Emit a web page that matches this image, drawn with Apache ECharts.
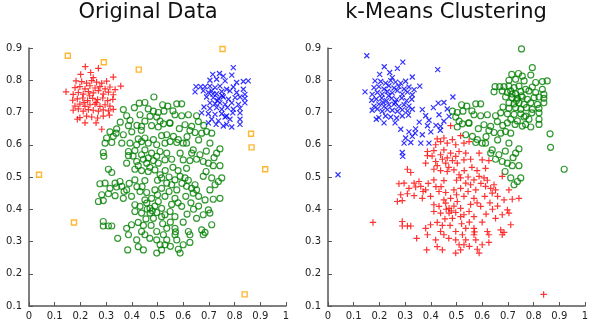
<!DOCTYPE html>
<html>
<head>
<meta charset="utf-8">
<script src="https://cdn.jsdelivr.net/npm/echarts@6/dist/echarts.min.js"></script>
<style>
  html, body { margin: 0; padding: 0; background: #ffffff; }
  #chart { width: 600px; height: 324px; }
</style>
</head>
<body>
<div id="chart"></div>
<script>
// Mouse-shaped point cloud: two "ears", one "head" and a few outliers.
// Left ear (red "+" on the left, blue "x" after clustering)
const earLeft = [
  [0.219,0.842],[0.270,0.837],[0.201,0.818],[0.240,0.824],[0.328,0.810],[0.250,0.808],
  [0.183,0.798],[0.205,0.796],[0.224,0.791],[0.244,0.799],[0.263,0.794],[0.283,0.791],
  [0.302,0.797],[0.357,0.782],[0.144,0.764],[0.179,0.777],[0.198,0.780],[0.218,0.773],
  [0.237,0.783],[0.257,0.776],[0.276,0.780],[0.296,0.773],[0.315,0.779],[0.335,0.771],
  [0.172,0.756],[0.192,0.762],[0.211,0.757],[0.231,0.765],[0.250,0.761],[0.270,0.768],
  [0.289,0.757],[0.309,0.763],[0.328,0.755],[0.170,0.738],[0.188,0.742],[0.209,0.745],
  [0.228,0.737],[0.248,0.744],[0.267,0.740],[0.287,0.745],[0.306,0.737],[0.326,0.741],
  [0.179,0.720],[0.198,0.726],[0.218,0.719],[0.237,0.724],[0.257,0.726],[0.276,0.719],
  [0.296,0.724],[0.315,0.720],[0.172,0.707],[0.192,0.711],[0.211,0.704],[0.231,0.709],
  [0.250,0.707],[0.270,0.704],[0.289,0.708],[0.309,0.705],[0.328,0.710],[0.198,0.684],
  [0.224,0.689],[0.244,0.686],[0.267,0.683],[0.289,0.689],[0.313,0.692],[0.188,0.679],
  [0.218,0.668],[0.261,0.668],[0.283,0.648],[0.236,0.752],[0.262,0.731],[0.214,0.731]
];
// Right ear (blue "x" on the left, green "o" after clustering)
const earRight = [
  [0.795,0.839],[0.715,0.818],[0.741,0.821],[0.756,0.813],[0.789,0.816],[0.853,0.798],
  [0.704,0.800],[0.730,0.803],[0.763,0.798],[0.808,0.793],[0.834,0.796],[0.650,0.780],
  [0.668,0.780],[0.685,0.780],[0.704,0.782],[0.724,0.777],[0.743,0.782],[0.769,0.772],
  [0.795,0.779],[0.834,0.772],[0.646,0.764],[0.678,0.767],[0.698,0.762],[0.711,0.767],
  [0.730,0.758],[0.750,0.765],[0.782,0.767],[0.808,0.762],[0.840,0.756],[0.691,0.748],
  [0.717,0.746],[0.737,0.744],[0.756,0.748],[0.776,0.741],[0.802,0.746],[0.821,0.748],
  [0.840,0.744],[0.704,0.730],[0.724,0.727],[0.743,0.730],[0.763,0.725],[0.789,0.730],
  [0.815,0.725],[0.840,0.730],[0.681,0.717],[0.704,0.713],[0.730,0.715],[0.750,0.710],
  [0.772,0.715],[0.795,0.710],[0.821,0.713],[0.672,0.699],[0.698,0.696],[0.724,0.694],
  [0.750,0.696],[0.769,0.689],[0.793,0.699],[0.821,0.699],[0.711,0.679],[0.737,0.674],
  [0.763,0.686],[0.782,0.679],[0.821,0.679],[0.698,0.668],[0.728,0.663],[0.756,0.658],
  [0.769,0.663],[0.789,0.655],[0.821,0.663],[0.733,0.737],[0.752,0.752],[0.716,0.757]
];
// Head, upper-left part (joins the left ear after clustering)
const headUpperLeft = [
  [0.486,0.748],[0.429,0.729],[0.451,0.731],[0.367,0.709],[0.464,0.711],[0.380,0.690],
  [0.432,0.693],[0.471,0.688],[0.393,0.676],[0.451,0.673],[0.341,0.649],[0.387,0.659],
  [0.438,0.657],[0.302,0.621],[0.328,0.626],[0.367,0.631],[0.296,0.605],[0.322,0.607],
  [0.361,0.605],[0.393,0.605],[0.289,0.576],[0.291,0.564],[0.437,0.645],[0.339,0.636],
  [0.410,0.715],[0.355,0.670],[0.315,0.640],[0.400,0.640],[0.420,0.660]
];
// Head, right part (joins the right ear after clustering)
const headRight = [
  [0.484,0.704],[0.503,0.700],[0.497,0.686],[0.510,0.673],[0.503,0.655],[0.523,0.665],
  [0.520,0.724],[0.575,0.727],[0.594,0.727],[0.525,0.704],[0.568,0.693],[0.594,0.690],
  [0.620,0.693],[0.652,0.690],[0.549,0.667],[0.607,0.662],[0.633,0.657],[0.659,0.672],
  [0.536,0.631],[0.562,0.626],[0.581,0.616],[0.600,0.605],[0.626,0.644],[0.646,0.638],
  [0.672,0.636],[0.691,0.641],[0.711,0.636],[0.575,0.607],[0.613,0.605],[0.704,0.605],
  [0.639,0.584],[0.743,0.587],[0.633,0.574],[0.665,0.569],[0.730,0.574],[0.652,0.555],
  [0.678,0.548],[0.698,0.543],[0.717,0.535],[0.743,0.535],[0.711,0.497],[0.737,0.486],
  [0.750,0.497],[0.724,0.476],[0.689,0.517],[0.547,0.668],
  [0.680,0.660],[0.660,0.615],[0.690,0.580],[0.720,0.560],[0.615,0.625],[0.585,0.650],
  [0.560,0.705],[0.540,0.720]
];
// Head, lower part (forms its own cluster)
const headLower = [
  [0.477,0.659],[0.425,0.618],[0.451,0.621],[0.484,0.616],[0.516,0.628],[0.419,0.600],
  [0.438,0.610],[0.464,0.605],[0.497,0.600],[0.387,0.579],[0.412,0.582],[0.451,0.584],
  [0.477,0.574],[0.510,0.579],[0.387,0.566],[0.438,0.569],[0.464,0.559],[0.497,0.564],
  [0.380,0.543],[0.419,0.548],[0.458,0.543],[0.484,0.551],[0.503,0.543],[0.309,0.524],
  [0.322,0.514],[0.412,0.524],[0.438,0.520],[0.464,0.517],[0.490,0.522],
  [0.529,0.605],[0.549,0.610],[0.536,0.574],[0.588,0.574],[0.529,0.553],[0.555,0.555],
  [0.600,0.553],[0.626,0.551],[0.613,0.527],
  [0.510,0.507],[0.276,0.479],[0.296,0.481],[0.335,0.481],[0.354,0.486],[0.451,0.489],
  [0.412,0.491],[0.516,0.497],[0.315,0.465],[0.341,0.469],[0.361,0.471],[0.380,0.460],
  [0.432,0.455],[0.458,0.452],[0.490,0.460],[0.516,0.465],[0.283,0.445],[0.309,0.448],
  [0.335,0.442],[0.367,0.434],[0.399,0.440],[0.451,0.429],[0.477,0.434],[0.503,0.424],
  [0.270,0.424],[0.289,0.427],[0.412,0.414],[0.432,0.409],[0.458,0.419],[0.471,0.403],
  [0.490,0.410],[0.516,0.403],[0.412,0.393],[0.438,0.388],[0.471,0.388],[0.497,0.390],
  [0.516,0.377],[0.484,0.372],[0.289,0.362],[0.309,0.348],[0.289,0.348],[0.322,0.348],
  [0.425,0.359],[0.399,0.352],[0.380,0.341],[0.438,0.331],[0.497,0.331],[0.387,0.321],
  [0.451,0.321],[0.345,0.310],[0.419,0.305],[0.497,0.305],[0.425,0.284],[0.445,0.274],
  [0.384,0.274],[0.497,0.264],
  [0.536,0.481],[0.555,0.476],[0.568,0.491],[0.588,0.502],[0.607,0.497],[0.613,0.471],
  [0.633,0.465],[0.646,0.476],[0.639,0.450],[0.652,0.460],[0.678,0.502],[0.704,0.460],
  [0.575,0.460],[0.529,0.440],[0.568,0.434],[0.685,0.429],[0.717,0.431],[0.743,0.434],
  [0.594,0.409],[0.529,0.383],[0.549,0.393],[0.568,0.377],[0.652,0.372],[0.678,0.383],
  [0.698,0.398],[0.704,0.388],[0.711,0.352],[0.672,0.336],[0.685,0.328],[0.536,0.341],
  [0.568,0.341],[0.568,0.321],[0.620,0.331],[0.536,0.305],[0.575,0.305],[0.626,0.321],
  [0.678,0.321],[0.600,0.290],[0.626,0.297],[0.581,0.276],[0.529,0.290],[0.516,0.274],
  [0.588,0.264],[0.523,0.321],
  [0.405,0.565],[0.425,0.535],[0.445,0.555],[0.470,0.530],[0.500,0.490],[0.530,0.520],
  [0.545,0.500],[0.560,0.530],[0.580,0.520],[0.595,0.480],[0.620,0.490],[0.660,0.440],
  [0.630,0.420],[0.610,0.440],[0.545,0.455],[0.500,0.445],[0.440,0.470],[0.420,0.470],
  [0.390,0.480],[0.370,0.455],[0.460,0.400],[0.480,0.395],[0.455,0.370],[0.445,0.350],
  [0.475,0.350],[0.520,0.355],[0.550,0.360],[0.600,0.360],[0.615,0.385],[0.640,0.400],
  [0.660,0.410],[0.580,0.420],[0.555,0.415],[0.470,0.310],[0.510,0.290],[0.550,0.285],
  [0.570,0.330]
];
// Outliers, grouped by the cluster they fall into
const noiseUpperLeft = [[0.151,0.876],[0.291,0.856],[0.427,0.833],[0.039,0.507]];
const noiseRight = [[0.753,0.897],[0.864,0.634],[0.866,0.592],[0.919,0.524]];
const noiseLower = [[0.175,0.359],[0.839,0.136]];

const titles = ['Original Data', 'k-Means Clustering'];

const RED = '#ff0000', BLUE = '#0000ff', GREEN = '#008000', ORANGE = '#ffa500';
const PLUS = 'path://M5,0L5,10M0,5L10,5';
const CROSS = 'path://M0,0L10,10M10,0L0,10';

function plusSeries(data, idx) {
  return { type: 'scatter', xAxisIndex: idx, yAxisIndex: idx, data, symbol: PLUS, symbolSize: 6.5,
    itemStyle: { color: 'rgba(0,0,0,0)', borderColor: RED, borderWidth: 1.2 } };
}
function crossSeries(data, idx) {
  return { type: 'scatter', xAxisIndex: idx, yAxisIndex: idx, data, symbol: CROSS, symbolSize: 5,
    itemStyle: { color: 'rgba(0,0,0,0)', borderColor: BLUE, borderWidth: 1.2 } };
}
function circleSeries(data, idx) {
  return { type: 'scatter', xAxisIndex: idx, yAxisIndex: idx, data, symbol: 'circle', symbolSize: 6,
    itemStyle: { color: 'rgba(0,0,0,0)', borderColor: GREEN, borderWidth: 1.2 } };
}
function squareSeries(data, idx) {
  return { type: 'scatter', xAxisIndex: idx, yAxisIndex: idx, data, symbol: 'rect', symbolSize: 5,
    itemStyle: { color: 'rgba(0,0,0,0)', borderColor: ORANGE, borderWidth: 1.4 } };
}

const axisText = { color: '#222', fontSize: 10, fontFamily: 'DejaVu Sans' };
const axisLineStyle = { color: '#555', width: 1.5 };

function xAxis(gridIndex) {
  return { type: 'value', gridIndex, min: 0, max: 1, interval: 0.1,
    axisLine: { onZero: false, lineStyle: axisLineStyle },
    axisTick: { inside: true, length: 4, lineStyle: { color: '#555' } },
    axisLabel: Object.assign({ margin: 5 }, axisText),
    splitLine: { show: false } };
}
function yAxis(gridIndex) {
  return { type: 'value', gridIndex, min: 0.1, max: 0.9, interval: 0.1,
    axisLine: { show: true, onZero: false, lineStyle: axisLineStyle },
    axisTick: { show: true, inside: true, length: 4, lineStyle: { color: '#555' } },
    axisLabel: Object.assign({ margin: 7 }, axisText),
    splitLine: { show: false } };
}

const chart = echarts.init(document.getElementById('chart'), null, { renderer: 'canvas' });
chart.setOption({
  animation: false,
  backgroundColor: '#ffffff',
  grid: [
    { left: 29, top: 48, width: 257, height: 258 },
    { left: 328, top: 48, width: 257, height: 258 }
  ],
  xAxis: [xAxis(0), xAxis(1)],
  yAxis: [yAxis(0), yAxis(1)],
  graphic: [
    { type: 'text', x: 148, y: 13, silent: true,
      style: { text: titles[0], font: '21px "DejaVu Sans"', fill: '#111', align: 'center', verticalAlign: 'middle' } },
    { type: 'text', x: 446, y: 13, silent: true,
      style: { text: titles[1], font: '21px "DejaVu Sans"', fill: '#111', align: 'center', verticalAlign: 'middle' } }
  ],
  series: [
    // Original data
    circleSeries(headUpperLeft.concat(headRight, headLower), 0),
    plusSeries(earLeft, 0),
    crossSeries(earRight, 0),
    squareSeries(noiseUpperLeft.concat(noiseRight, noiseLower), 0),
    // k-means result
    circleSeries(earRight.concat(headRight, noiseRight), 1),
    plusSeries(headLower.concat(noiseLower), 1),
    crossSeries(earLeft.concat(headUpperLeft, noiseUpperLeft), 1)
  ].map(s => Object.assign(s, { silent: true }))
});
</script>
</body>
</html>
